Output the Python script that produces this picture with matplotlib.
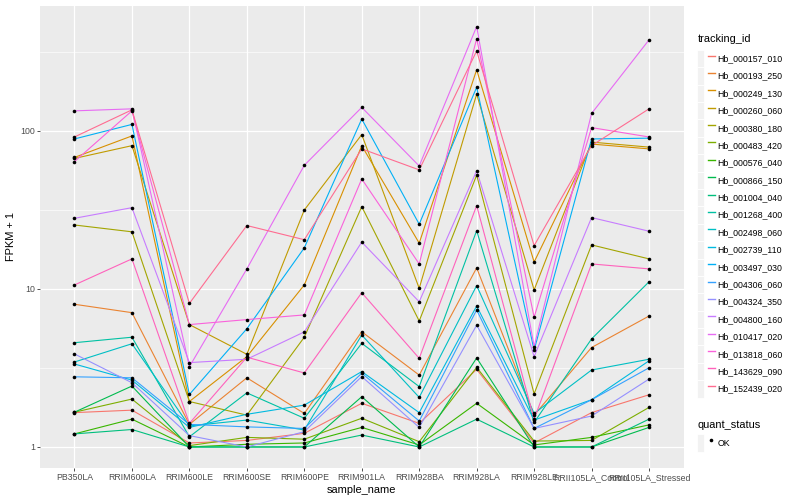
import numpy as np
import matplotlib.pyplot as plt
from matplotlib.lines import Line2D
from matplotlib.patches import Patch
from matplotlib.legend_handler import HandlerTuple
from matplotlib.ticker import FixedLocator, NullFormatter

plt.rcParams['font.family'] = ['Liberation Sans', 'DejaVu Sans']

# DATA (FPKM + 1)
samples = ["PB350LA", "RRIM600LA", "RRIM600LE", "RRIM600SE", "RRIM600PE", "RRIM901LA",
           "RRIM928BA", "RRIM928LA", "RRIM928LE", "RRII105LA_Control", "RRII105LA_Stressed"]

tracking_ids = ["Hb_000157_010", "Hb_000193_250", "Hb_000249_130", "Hb_000260_060",
                "Hb_000380_180", "Hb_000483_420", "Hb_000576_040", "Hb_000866_150",
                "Hb_001004_040", "Hb_001268_400", "Hb_002498_060", "Hb_002739_110",
                "Hb_003497_030", "Hb_004306_060", "Hb_004324_350", "Hb_004800_160",
                "Hb_010417_020", "Hb_013818_060", "Hb_143629_090", "Hb_152439_020"]

hb_000157_010 = [1.65, 1.71, 1.06, 1.10, 1.22, 1.89, 1.41, 3.10, 1.06, 1.65, 2.14]
hb_000193_250 = [8.0, 7.08, 1.39, 2.74, 1.63, 5.36, 2.85, 13.6, 1.59, 4.26, 6.74]
hb_000249_130 = [68, 93, 1.94, 3.73, 10.6, 80.6, 19.5, 244, 14.8, 82.6, 77]
hb_000260_060 = [67, 80.7, 5.95, 3.86, 31.6, 94.8, 10.1, 171, 9.86, 85, 79]
hb_000380_180 = [25.4, 23, 1.94, 1.59, 4.95, 33.2, 6.27, 52.5, 2.17, 19, 15.5]
hb_000483_420 = [1.66, 2.01, 1.02, 1.15, 1.12, 1.52, 1.08, 3.19, 1.09, 1.10, 1.78]
hb_000576_040 = [1.21, 1.50, 1.0, 1.04, 1.06, 1.33, 1.03, 1.89, 1.03, 1.15, 1.38]
hb_000866_150 = [1.66, 2.43, 1.0, 1.0, 1.0, 2.08, 1.0, 3.66, 1.0, 1.0, 1.33]
hb_001004_040 = [1.21, 1.29, 1.0, 1.0, 1.0, 1.19, 1.0, 1.50, 1.0, 1.0, 1.50]
hb_001268_400 = [4.57, 4.95, 1.16, 2.2, 1.52, 4.53, 2.41, 23.4, 1.43, 4.83, 11.1]
hb_002498_060 = [3.45, 4.5, 1.36, 1.48, 1.28, 5.11, 2.06, 10.5, 1.63, 3.07, 3.59]
hb_002739_110 = [3.35, 2.65, 1.33, 1.61, 1.84, 3.0, 1.65, 7.8, 1.48, 1.99, 3.51]
hb_003497_030 = [89, 110, 2.15, 5.6, 18.2, 119, 25.7, 189, 4.1, 89, 90]
hb_004306_060 = [2.78, 2.74, 1.39, 1.34, 1.31, 2.93, 1.46, 7.37, 1.31, 1.99, 3.17]
hb_004324_350 = [3.88, 2.55, 1.18, 1.0, 1.25, 2.79, 1.33, 5.9, 1.31, 1.57, 2.69]
hb_004800_160 = [28, 32.7, 3.42, 3.59, 5.35, 19.8, 8.3, 56, 3.73, 28.3, 23.2]
hb_010417_020 = [134, 138, 3.22, 13.4, 60.6, 141, 60, 458, 4.32, 129, 377]
hb_013818_060 = [64, 134, 5.95, 6.4, 6.85, 49.7, 14.4, 384, 6.62, 105, 91.6]
hb_143629_090 = [10.6, 15.5, 1.41, 3.7, 2.94, 9.47, 3.64, 33.7, 1.5, 14.4, 13.4]
hb_152439_020 = [91.6, 136, 8.1, 25.2, 20.5, 77, 56.7, 321, 18.8, 80.8, 138]

fpkm = [hb_000157_010, hb_000193_250, hb_000249_130, hb_000260_060, hb_000380_180,
        hb_000483_420, hb_000576_040, hb_000866_150, hb_001004_040, hb_001268_400,
        hb_002498_060, hb_002739_110, hb_003497_030, hb_004306_060, hb_004324_350,
        hb_004800_160, hb_010417_020, hb_013818_060, hb_143629_090, hb_152439_020]

# ggplot default hue palette for 20 levels
colors = ["#F8766D", "#EA8331", "#D89000", "#C09B00", "#A3A500", "#7CAE00", "#39B600",
          "#00BB4E", "#00BF7D", "#00C1A3", "#00BFC4", "#00BAE0", "#00B0F6", "#35A2FF",
          "#9590FF", "#C77CFF", "#E76BF3", "#FA62DB", "#FF62BC", "#FF6C91"]

# PLOT
fig = plt.figure(figsize=(8, 5), dpi=100)
ax = fig.add_axes([40 / 800, 1 - 468 / 500, 643.5 / 800, 462.5 / 500])
ax.set_facecolor("#EBEBEB")

x = np.arange(len(samples))
for values, color in zip(fpkm, colors):
    ax.plot(x, values, color=color, lw=0.8, zorder=2)
for values in fpkm:
    ax.plot(x, values, "o", color="black", markersize=2.6, markeredgewidth=0, zorder=3)

# scales: log10 y with ggplot style 5% expansion, discrete x with 0.6 expansion
ax.set_yscale("log")
lo = np.log10(min(min(v) for v in fpkm))
hi = np.log10(max(max(v) for v in fpkm))
pad = (hi - lo) * 0.05
ax.set_ylim(10 ** (lo - pad), 10 ** (hi + pad))
ax.set_xlim(-0.6, len(samples) - 0.4)

ax.set_yticks([1, 10, 100])
ax.set_yticklabels(["1", "10", "100"])
ax.yaxis.set_minor_locator(FixedLocator([10 ** 0.5, 10 ** 1.5, 10 ** 2.5]))
ax.yaxis.set_minor_formatter(NullFormatter())
ax.set_xticks(x)
ax.set_xticklabels(samples)

ax.grid(True, which="major", color="white", lw=0.9)
ax.grid(True, which="minor", axis="y", color="white", lw=0.45)
ax.set_axisbelow(True)
for s in ax.spines.values():
    s.set_visible(False)
ax.tick_params(which="major", length=2.2, width=0.6, color="#333333",
               labelsize=6.3, labelcolor="#4D4D4D", pad=1.5)
ax.tick_params(which="minor", length=0)

ax.set_xlabel("sample_name", fontsize=7.9, labelpad=2)
ax.set_ylabel("FPKM + 1", fontsize=7.9, labelpad=3)

# legends (gray key boxes like ggplot)
key_bg = dict(facecolor="#F2F2F2", edgecolor="white", linewidth=0.6)
legend_style = dict(loc="upper left", frameon=False, fontsize=6.3, title_fontsize=7.9,
                    handler_map={tuple: HandlerTuple(ndivide=None)},
                    handlelength=1.97, handleheight=2.68, labelspacing=0.0,
                    handletextpad=0.35, borderpad=0.55, borderaxespad=0)

line_handles = [(Patch(**key_bg), Line2D([], [], color=c, lw=1.0)) for c in colors]
leg1 = fig.legend(line_handles, tracking_ids, title="tracking_id",
                  bbox_to_anchor=(692.5 / 800, 1 - 29.5 / 500), **legend_style)
leg1._legend_box.align = "left"
leg1._legend_box.sep = 4.0

point_handle = [(Patch(**key_bg), Line2D([], [], ls="", marker="o", color="black",
                                         markersize=2.6, markeredgewidth=0))]
leg2 = fig.legend(point_handle, ["OK"], title="quant_status",
                  bbox_to_anchor=(692.5 / 800, 1 - 415.5 / 500), **legend_style)
leg2._legend_box.align = "left"
leg2._legend_box.sep = 3.0

fig.savefig("out.png", dpi=100)
